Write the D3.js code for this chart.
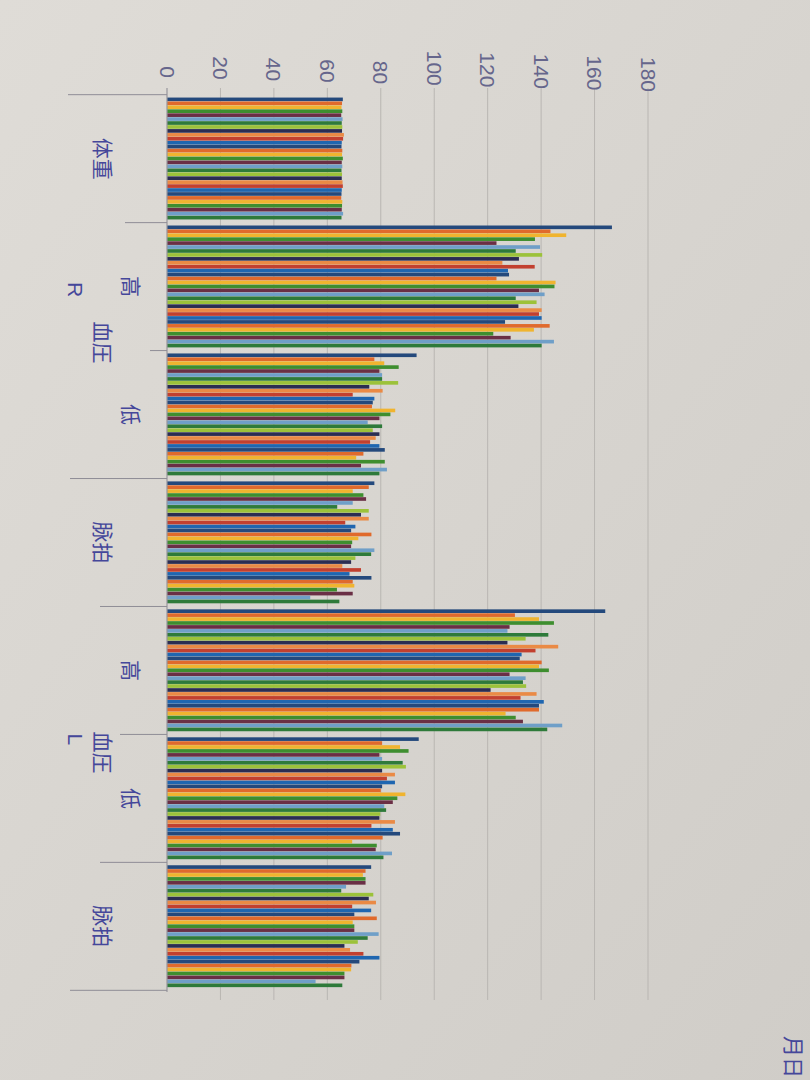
<!DOCTYPE html>
<html><head><meta charset="utf-8">
<script src="https://cdn.jsdelivr.net/npm/d3@7"></script>
<style>html,body{margin:0;padding:0;background:#d8d5d0;}svg{display:block;}</style>
</head><body>
<svg id="chart" width="810" height="1080"></svg>
<script>
// ---- data ----
const categories = ["体重", "高", "低", "脉拍", "高", "低", "脉拍"];
const days = d3.range(1, 32).map(d => d + "日");
const weight = [65.8,65.5,65.3,65.6,65.2,65.7,65.4,65.6,65.5,66.2,65.9,65.4,65.3,65.6,65.5,65.8,65.4,65.6,65.3,65.5,65.4,65.7,65.8,65.4,65.3,65.2,65.6,65.5,65.4,65.9,65.3];
const rHigh = [166.5,143.5,149.4,137.7,123.3,139.6,130.5,140.4,131.7,125.5,137.6,127.6,128,123.3,145.4,145,139.2,141.3,130.5,138.3,131.5,140.2,139.2,140.2,126.5,143.2,137.3,122.1,128.6,144.8,140.2];
const rLow = [93.4,77.6,81.3,86.7,79.5,80.5,80.5,86.5,75.7,80.7,69.5,77.6,77,76.7,85.4,83.6,79.5,75.1,80.5,77,79.5,78.1,76,79.5,81.5,73.5,70.8,81.5,72.6,82.3,79.5];
const rPulse = [77.6,75.5,69.5,73.5,74.5,69.5,63.7,75.5,72.6,75.5,66.7,70.5,68.9,76.5,71.6,69.3,68.9,77.6,76.4,70.5,68.9,65.6,72.6,68.3,76.5,69.5,70.1,63.6,69.5,53.6,64.5];
const lHigh = [164,130.2,139.2,144.8,128.2,127.4,142.7,134.2,127.4,146.4,137.9,132.7,132,140.2,139.2,142.9,128.2,134.2,133.2,134.4,121.1,138.3,132.3,141,139.2,139.2,126.7,130.5,133.2,147.9,142.3];
const lLow = [94.2,80.5,87.2,90.4,79.5,80.5,88.2,89.4,80.5,85.3,82.3,85.3,80.5,80,89.2,86.2,84.5,81.3,82,79.8,79.5,85.3,76.5,84.5,87.2,80.7,69.3,78.5,78.1,84.2,81];
const lPulse = [76.4,74.3,73.3,74.3,74.3,67,65.2,77.2,75.5,78.2,69.3,76.4,70.1,78.5,69.5,70.1,70.1,79.2,75.1,71.4,66.4,68.5,73.5,79.5,72,69,68.9,66.4,66.4,55.6,65.6];
const valueTicks = [0,20,40,60,80,100,120,140,160,180];
const groupLabels = ["血圧", "血圧"];
const sideLabels = ["R", "L"];
const footLabel = "月日";
const palette = ["#24497c","#e06a2c","#f0b42f","#3e8e2f","#6a2f45","#6f9fc8","#2e7a3a","#9cc23a","#2b2d52","#ea8a45","#c2402f","#1f66b0"];

const seriesByCat = [weight, rHigh, rLow, rPulse, lHigh, lLow, lPulse];

// ---- drawing ----
const svg = d3.select("#chart");
const defs = svg.append("defs");
const grad = defs.append("linearGradient").attr("id","bg").attr("x1","0").attr("y1","0").attr("x2","1").attr("y2","1");
grad.append("stop").attr("offset","0").attr("stop-color","#dfdcd7");
grad.append("stop").attr("offset","1").attr("stop-color","#d0cdc8");
svg.append("rect").attr("width",810).attr("height",1080).attr("fill","url(#bg)");

const x = d3.scaleLinear().domain([0,180]).range([167,648]);
const y = d3.scaleBand().domain(d3.range(categories.length)).range([95,990]).paddingInner(0.045).paddingOuter(0.02);
const inner = d3.scaleBand().domain(d3.range(days.length)).range([0, y.bandwidth()]).padding(0);

// gridlines
svg.append("g").selectAll("line").data(valueTicks.slice(1)).join("line")
  .attr("x1", d => x(d)).attr("x2", d => x(d))
  .attr("y1", 88).attr("y2", 1000)
  .attr("stroke", "#b9b6b2").attr("stroke-width", 1);

// tick labels
svg.append("g").selectAll("text").data(valueTicks).join("text")
  .attr("transform", d => `translate(${x(d)},${78 + d/180*14}) rotate(90)`)
  .attr("text-anchor", "end").attr("dominant-baseline", "central")
  .attr("font-family", "Liberation Sans, Arial, sans-serif").attr("font-size", 21)
  .attr("fill", "#66668c").text(d => d);

// bars
const cells = [];
seriesByCat.forEach((arr, ci) => arr.forEach((v, si) => cells.push({ci, si, v})));
svg.append("g").selectAll("rect").data(cells).join("rect")
  .attr("x", x(0))
  .attr("y", d => y(d.ci) + inner(d.si))
  .attr("width", d => x(d.v) - x(0))
  .attr("height", inner.bandwidth() - 0.3)
  .attr("fill", d => palette[d.si % palette.length]);

// category axis line
svg.append("line").attr("x1", x(0)).attr("x2", x(0)).attr("y1", 88).attr("y2", 992)
  .attr("stroke", "#97959c").attr("stroke-width", 1.2);

// category boundary ticks
const half = (y.step() - y.bandwidth()) / 2;
const bounds = d3.range(categories.length).map(i => y(i) - half).concat([y(categories.length - 1) + y.bandwidth() + half]);
const tickStarts = [68, 125, 150, 70, 100, 120, 100, 70];
svg.append("g").selectAll("line").data(bounds).join("line")
  .attr("x1", (d, i) => tickStarts[i]).attr("x2", x(0))
  .attr("y1", d => d).attr("y2", d => d)
  .attr("stroke", "#8f8d96").attr("stroke-width", 1);

const labelColor = "#45479a";
const cjk = "Noto Sans CJK SC, sans-serif";
function vtext(px, py, t, size, fam) {
  svg.append("text").attr("transform", `translate(${px},${py}) rotate(90)`)
    .attr("text-anchor", "middle").attr("dominant-baseline", "central")
    .attr("font-family", fam || cjk).attr("font-size", size || 21)
    .attr("fill", labelColor).text(t);
}
const mid = i => y(i) + y.bandwidth() / 2;
categories.forEach((c, i) => {
  if (c === "高" || c === "低") vtext(132, mid(i), c);
  else vtext(104, mid(i), c);
});
vtext(104, bounds[2] - 8, groupLabels[0]);
vtext(104, bounds[5] + 18, groupLabels[1]);
vtext(75, mid(1) + 3, sideLabels[0], 21, "Liberation Sans, Arial, sans-serif");
vtext(75, bounds[5] + 5, sideLabels[1], 21, "Liberation Sans, Arial, sans-serif");
svg.append("text").attr("transform", `translate(795,1036) rotate(90)`)
  .attr("text-anchor", "start").attr("dominant-baseline", "central")
  .attr("font-family", cjk).attr("font-size", 21).attr("fill", labelColor).text(footLabel);
</script>
</body></html>
